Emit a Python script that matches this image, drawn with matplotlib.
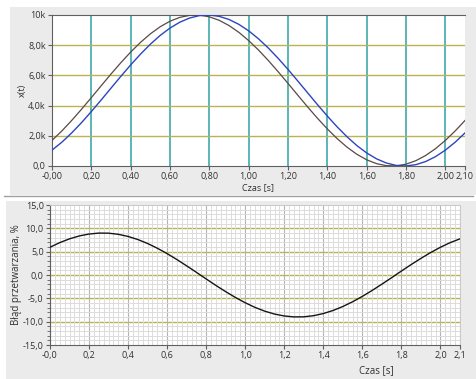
import numpy as np
import matplotlib.pyplot as plt
from matplotlib.patches import Rectangle
from matplotlib.lines import Line2D

plt.rcParams['font.family'] = ['Open Sans', 'DejaVu Sans']

# time axis (s), read at 0.05 s steps
t = [0.00, 0.05, 0.10, 0.15, 0.20, 0.25, 0.30, 0.35, 0.40, 0.45, 0.50,
     0.55, 0.60, 0.65, 0.70, 0.75, 0.80, 0.85, 0.90, 0.95, 1.00, 1.05,
     1.10, 1.15, 1.20, 1.25, 1.30, 1.35, 1.40, 1.45, 1.50, 1.55, 1.60,
     1.65, 1.70, 1.75, 1.80, 1.85, 1.90, 1.95, 2.00, 2.05, 2.10]

# blue trace x(t)
x_blue = [1050, 1575, 2190, 2870, 3605, 4373, 5157, 5937, 6694, 7409, 8064,
          8646, 9135, 9524, 9801, 9961, 9998, 9911, 9704, 9381, 8951, 8424,
          7810, 7129, 6395, 5627, 4843, 4063, 3306, 2591, 1936, 1354, 865,
          476, 199, 39, 2, 89, 296, 619, 1049, 1576, 2190]

# dark trace x(t)
x_dark = [1695, 2320, 3015, 3756, 4529, 5314, 6091, 6840, 7545, 8187, 8751,
          9222, 9589, 9843, 9978, 9990, 9880, 9649, 9303, 8853, 8305, 7680,
          6986, 6243, 5471, 4686, 3909, 3160, 2455, 1813, 1249, 778, 411,
          157, 22, 10, 120, 351, 697, 1147, 1695, 2320, 3015]

# processing error, %
err = [5.95, 6.94, 7.75, 8.37, 8.78, 8.98, 8.96, 8.72, 8.26, 7.60, 6.75,
       5.73, 4.58, 3.31, 1.96, 0.57, -0.85, -2.24, -3.57, -4.82, -5.95, -6.94,
       -7.75, -8.37, -8.78, -8.98, -8.96, -8.72, -8.26, -7.60, -6.75, -5.73, -4.58,
       -3.31, -1.96, -0.57, 0.85, 2.24, 3.57, 4.82, 5.95, 6.94, 7.75]

top_xticks = [0.0, 0.2, 0.4, 0.6, 0.8, 1.0, 1.2, 1.4, 1.6, 1.8, 2.0, 2.1]
top_xticklabels = ["-0,00", "0,20", "0,40", "0,60", "0,80", "1,00", "1,20",
                   "1,40", "1,60", "1,80", "2,00", "2,10"]
top_yticks = [0, 2000, 4000, 6000, 8000, 10000]
top_yticklabels = ["0,0", "2,0k", "4,0k", "6,0k", "8,0k", "10k"]

bot_xticks = top_xticks
bot_xticklabels = ["-0,0", "0,2", "0,4", "0,6", "0,8", "1,0", "1,2",
                   "1,4", "1,6", "1,8", "2,0", "2,1"]
bot_yticks = [-15, -10, -5, 0, 5, 10, 15]
bot_yticklabels = ["-15,0", "-10,0", "-5,0", "0,0", "5,0", "10,0", "15,0"]

W, H = 477, 379
fig = plt.figure(figsize=(W / 100, H / 100), dpi=100)
fig.patch.set_facecolor("white")

PANEL = "#ebebeb"
fig.patches.append(Rectangle((10 / W, 1 - 195 / H), 1 - 10 / W, 188 / H,
                             transform=fig.transFigure, facecolor=PANEL,
                             edgecolor="none", zorder=-10))
fig.patches.append(Rectangle((6 / W, 0), 1 - 6 / W, 1 - 201 / H,
                             transform=fig.transFigure, facecolor=PANEL,
                             edgecolor="none", zorder=-10))
fig.lines.append(Line2D([4 / W, 473 / W], [1 - 196 / H, 1 - 196 / H],
                        transform=fig.transFigure, color="#a0a0a0", lw=1,
                        zorder=-5))

SPINE = "#606060"
FS = 6.5

# ---- top panel ----
ax1 = fig.add_axes([52 / W, 1 - 166 / H, 413 / W, 151 / H])
ax1.set_facecolor("white")
ax1.set_xlim(0, 2.1)
ax1.set_ylim(0, 10000)
for xv in top_xticks[1:-1]:
    ax1.axvline(xv, color="#5bb5b8", lw=1.4, zorder=1)
for yv in top_yticks[1:-1]:
    ax1.axhline(yv, color="#b9b354", lw=1.0, zorder=1)
ax1.plot(t, x_dark, color="#5a4846", lw=0.9, zorder=3)
ax1.plot(t, x_blue, color="#2b45c0", lw=1.0, zorder=3)
ax1.set_xticks(top_xticks)
ax1.set_xticklabels(top_xticklabels)
ax1.set_yticks(top_yticks)
ax1.set_yticklabels(top_yticklabels)
ax1.tick_params(labelsize=FS, length=3, width=0.8, color=SPINE, pad=1.5,
                labelcolor="#303030")
ax1.spines["right"].set_visible(False)
for s in ["left", "bottom", "top"]:
    ax1.spines[s].set_color(SPINE)
    ax1.spines[s].set_linewidth(0.8)
ax1.set_xlabel("Czas [s]", fontsize=FS, color="#303030", labelpad=1)
ax1.set_ylabel("x(t)", fontsize=FS, color="#303030")
ax1.yaxis.set_label_coords(-0.06, 0.5)

# ---- bottom panel ----
ax2 = fig.add_axes([50 / W, 1 - 345 / H, 410 / W, 140 / H])
ax2.set_facecolor("white")
ax2.set_xlim(0, 2.1)
ax2.set_ylim(-15, 15)
ax2.set_xticks(bot_xticks)
ax2.set_xticklabels(bot_xticklabels)
ax2.set_yticks(bot_yticks)
ax2.set_yticklabels(bot_yticklabels)
ax2.set_xticks(np.arange(0, 2.1001, 0.025), minor=True)
ax2.set_yticks(np.arange(-15, 15.001, 1), minor=True)
ax2.grid(which="minor", color="#dcdcdc", lw=0.7, zorder=0)
ax2.grid(which="major", axis="x", color="#b4b4b4", lw=0.8, zorder=0)
for yv in bot_yticks[1:-1]:
    ax2.axhline(yv, color="#b9b354", lw=1.0, zorder=1)
ax2.plot(t, err, color="#151515", lw=1.0, zorder=3)
ax2.tick_params(labelsize=FS, length=3, width=0.8, color=SPINE, pad=1.5,
                labelcolor="#303030")
ax2.tick_params(axis="y", which="minor", length=2, width=0.6, color=SPINE)
ax2.tick_params(axis="x", which="minor", length=0)
for s in ["top", "right"]:
    ax2.spines[s].set_color("#c8c8c8")
    ax2.spines[s].set_linewidth(0.7)
for s in ["left", "bottom"]:
    ax2.spines[s].set_color(SPINE)
    ax2.spines[s].set_linewidth(0.8)
ax2.set_xlabel("Czas [s]", fontsize=FS + 0.5, color="#303030")
ax2.xaxis.set_label_coords(0.795, -0.145)
ax2.set_ylabel("Błąd przetwarzania, %", fontsize=FS + 0.5, color="#303030")
ax2.yaxis.set_label_coords(-0.068, 0.5)

fig.savefig("out.png", dpi=100, facecolor=fig.get_facecolor())
